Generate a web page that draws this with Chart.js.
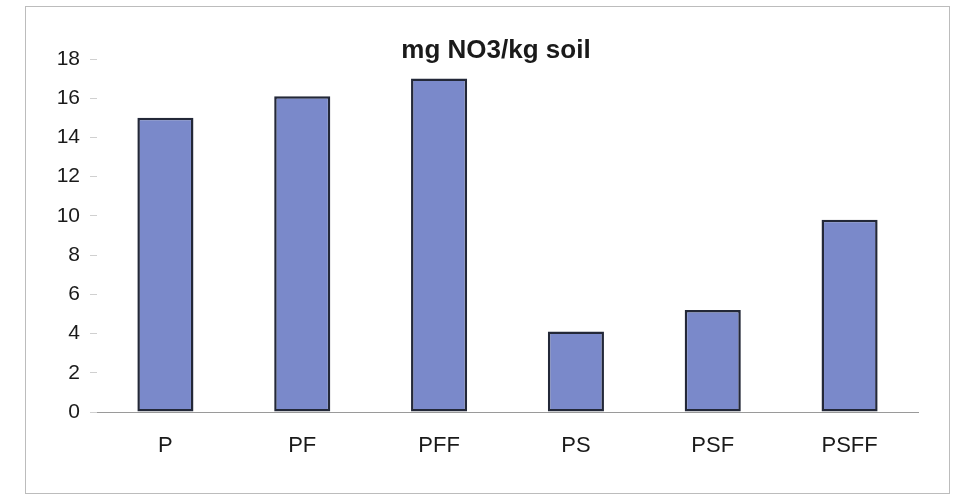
<!DOCTYPE html>
<html>
<head>
<meta charset="utf-8">
<script src="https://cdn.jsdelivr.net/npm/chart.js@4/dist/chart.umd.min.js"></script>
<style>
  html, body { margin: 0; padding: 0; background: #fff; }
  #wrap { width: 955px; height: 501px; }
</style>
</head>
<body>
<div id="wrap"><canvas id="nitrate"></canvas></div>
<script>
// DATA
const treatments = ["P", "PF", "PFF", "PS", "PSF", "PSFF"];
const nitrate = [15.0, 16.1, 17.0, 4.1, 5.2, 9.8];
const yTicks = [0, 2, 4, 6, 8, 10, 12, 14, 16, 18];
const chartTitle = "mg NO3/kg soil";

// frame round the whole chart + title text
const decor = {
    id: "decor",
    beforeDraw(chart) {
        const c = chart.ctx;
        c.save();
        c.fillStyle = "#fff";
        c.fillRect(0, 0, chart.width, chart.height);
        c.strokeStyle = "#bcbcbc";
        c.lineWidth = 1;
        c.strokeRect(25.5, 6.5, 924, 487);
        c.restore();
    },
    afterDraw(chart) {
        const c = chart.ctx;
        c.save();
        c.font = "bold 26px 'Liberation Sans', Arial, sans-serif";
        c.fillStyle = "#1a1a1a";
        c.textAlign = "center";
        c.textBaseline = "alphabetic";
        c.fillText(chartTitle, 496, 58);
        c.restore();
    }
};

const ctx = document.getElementById("nitrate").getContext("2d");

new Chart(ctx, {
    type: "bar",
    data: {
        labels: treatments,
        datasets: [{
            data: nitrate,
            backgroundColor: "rgb(122,137,202)",
            borderColor: "#232838",
            borderWidth: 2.5,
            borderSkipped: false,
            categoryPercentage: 1,
            barPercentage: 0.41
        }]
    },
    options: {
        responsive: true,
        maintainAspectRatio: false,
        animation: false,
        layout: { padding: { top: 59, right: 37, bottom: 0, left: 0 } },
        plugins: {
            legend: { display: false },
            tooltip: { enabled: false },
            title: { display: false }
        },
        scales: {
            x: {
                grid: { display: false, drawTicks: false },
                border: { display: true, color: "#9a9a9a", width: 1 },
                ticks: {
                    padding: 21,
                    color: "#1a1a1a",
                    font: { family: "'Liberation Sans', Arial", size: 22 }
                },
                afterFit(scale) { scale.height = 89; }
            },
            y: {
                min: 0,
                max: 18,
                afterBuildTicks(scale) {
                    scale.ticks = yTicks.map(v => ({ value: v }));
                },
                grid: {
                    drawOnChartArea: false,
                    drawTicks: true,
                    tickLength: 7,
                    color: "#d0d0d0"
                },
                border: { display: false },
                ticks: {
                    padding: 10,
                    color: "#1a1a1a",
                    font: { family: "'Liberation Sans', Arial", size: 21 }
                },
                afterFit(scale) { scale.width = 97; }
            }
        }
    },
    plugins: [decor]
});
</script>
</body>
</html>
